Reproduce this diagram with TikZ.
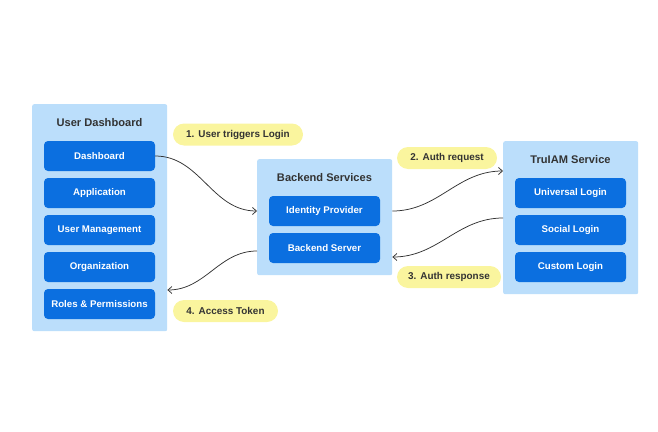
\documentclass[tikz,border=0pt]{standalone}
\usepackage{fontspec}
\setmainfont{Liberation Sans}
\usetikzlibrary{arrows.meta}
\definecolor{contbg}{HTML}{BBDEFB}
\definecolor{itembg}{HTML}{0B6FE0}
\definecolor{pillbg}{HTML}{FAF59E}
\definecolor{titlec}{HTML}{333333}
\definecolor{linec}{HTML}{333333}
\tikzset{
  cont/.style={fill=contbg, draw=none, rounded corners=2pt, anchor=north west, inner sep=0pt},
  ctitle/.style={text=titlec, font=\fontsize{11.1}{13}\selectfont\bfseries, inner sep=0pt},
  item/.style={fill=itembg, draw=none, rounded corners=4pt, minimum width=111pt, minimum height=30pt, inner sep=0pt, text=white, font=\fontsize{9.7}{11}\selectfont\bfseries},
  pill/.style={fill=pillbg, draw=none, rounded corners=11pt, minimum height=22pt, inner sep=0pt, text=titlec, font=\fontsize{9.9}{11}\selectfont\bfseries},
  conn/.style={draw=linec, line width=0.75pt, -{Straight Barb[length=4pt,width=7pt]}}
}
\begin{document}
\begin{tikzpicture}[x=1pt,y=-1pt]
\useasboundingbox (0,0) rectangle (658,431);
% containers
\node[cont, minimum width=135pt, minimum height=227pt] (ud) at (32,104) {};
\node[cont, minimum width=135pt, minimum height=116pt] (bs) at (257,159) {};
\node[cont, minimum width=135pt, minimum height=153pt] (tr) at (503,141) {};
% titles
\node[ctitle] (udt) at (99.5,123) {User Dashboard};
\node[ctitle] (bst) at (324.5,178) {Backend Services};
\node[ctitle] (trt) at (570.5,160) {TruIAM Service};
% user dashboard items
\node[item] (dash) at (99.5,156) {Dashboard};
\node[item] (app) at (99.5,193) {Application};
\node[item] (um) at (99.5,230) {User Management};
\node[item] (org) at (99.5,267) {Organization};
\node[item] (rp) at (99.5,304) {Roles \& Permissions};
% backend items
\node[item] (idp) at (324.5,211) {Identity Provider};
\node[item] (bsv) at (324.5,248) {Backend Server};
% truiam items
\node[item] (ul) at (570.5,193) {Universal Login};
\node[item] (sl) at (570.5,230) {Social Login};
\node[item] (cl) at (570.5,267) {Custom Login};
% pills
\node[pill, minimum width=130pt] (p1) at (238,134.5) {1.\hspace{4pt}User triggers Login};
\node[pill, minimum width=100pt] (p2) at (447,158) {2.\hspace{4pt}Auth request};
\node[pill, minimum width=104pt] (p3) at (449,277) {3.\hspace{4pt}Auth response};
\node[pill, minimum width=105pt] (p4) at (225.5,311) {4.\hspace{4pt}Access Token};
% connectors
\coordinate (c1) at (bs.west |- idp.west);
\coordinate (c2s) at (bs.east |- idp.east);
\coordinate (c2e) at (tr.west |- 0,171);
\coordinate (c3s) at (tr.west |- 0,218);
\coordinate (c3e) at (bs.east |- 0,257);
\coordinate (c4s) at (bs.west |- 0,251);
\coordinate (c4e) at (ud.east |- 0,290);
\draw[conn] (dash.east) to[out=0,in=180] (c1);
\draw[conn] (c2s) to[out=0,in=180] (c2e);
\draw[conn] (c3s) to[out=180,in=0] (c3e);
\draw[conn] (c4s) to[out=180,in=0] (c4e);
\end{tikzpicture}
\end{document}
